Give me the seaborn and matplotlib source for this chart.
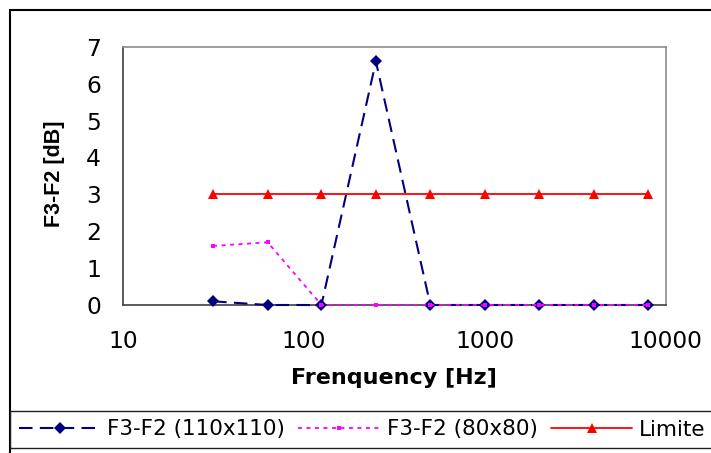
import matplotlib
matplotlib.use("Agg")
import matplotlib.pyplot as plt
from matplotlib.patches import Rectangle
import seaborn as sns
import pandas as pd

# Octave-band centre frequencies (Hz)
freq = [31.5, 63, 125, 250, 500, 1000, 2000, 4000, 8000]
# Level differences F3-F2 in dB for the two sample sizes, and the limit line
diff_110 = [0.1, 0.0, 0.0, 6.6, 0.0, 0.0, 0.0, 0.0, 0.0]
diff_80 = [1.6, 1.7, 0.0, 0.0, 0.0, 0.0, 0.0, 0.0, 0.0]
limite = [3, 3, 3, 3, 3, 3, 3, 3, 3]

series_labels = ["F3-F2 (110x110)", "F3-F2 (80x80)", "Limite"]
x_ticks = [10, 100, 1000, 10000]
x_tick_labels = ["10", "100", "1000", "10000"]
y_ticks = [0, 1, 2, 3, 4, 5, 6, 7]

sns.set_theme(style="white")
plt.rcParams["font.family"] = ["DejaVu Sans"]
plt.rcParams["text.color"] = "black"
plt.rcParams["axes.labelcolor"] = "black"

df = pd.DataFrame({"freq": freq, "d110": diff_110, "d80": diff_80, "lim": limite})

W, H = 711, 453
fig = plt.figure(figsize=(W / 100, H / 100), dpi=100)
ax = fig.add_axes([123 / W, 1 - 305 / H, (665.7 - 123) / W, (305 - 46.7) / H])

sns.lineplot(data=df, x="freq", y="d110", ax=ax, color="#000080", lw=1.5,
             linestyle=(0, (6.5, 3.5)), marker="D", markersize=6.3,
             markeredgewidth=0, label=series_labels[0], clip_on=False,
             zorder=3)
sns.lineplot(data=df, x="freq", y="d80", ax=ax, color="#FF00FF", lw=1.3,
             linestyle=(0, (2.2, 2.5)), marker="s", markersize=2.8,
             markeredgewidth=0, label=series_labels[1], clip_on=False,
             zorder=4)
sns.lineplot(data=df, x="freq", y="lim", ax=ax, color="#FF0000", lw=1.3,
             marker="^", markersize=6.5, markeredgewidth=0,
             label=series_labels[2], clip_on=False, zorder=5)

ax.set_xscale("log")
ax.set_xlim(10, 10000)
ax.set_ylim(0, 7)
ax.set_xticks(x_ticks)
ax.set_xticklabels(x_tick_labels)
ax.minorticks_off()
ax.set_yticks(y_ticks)
ax.set_yticklabels([str(v) for v in y_ticks])

ax.tick_params(axis="both", which="major", direction="out", length=5.8,
               width=1, color="#404040", labelsize=16.8, labelcolor="black")
ax.tick_params(axis="x", pad=12)
ax.tick_params(axis="y", pad=10)

for side in ("left", "bottom"):
    ax.spines[side].set_color("#404040")
    ax.spines[side].set_linewidth(1.2)
for side in ("top", "right"):
    ax.spines[side].set_color("#8c8c8c")
    ax.spines[side].set_linewidth(1.2)

ax.set_xlabel("Frenquency [Hz]", fontsize=16, fontweight="bold")
ax.set_ylabel("F3-F2 [dB]", fontsize=15.5, fontweight="bold",
              family=["Liberation Sans", "DejaVu Sans"])
ax.xaxis.set_label_coords(0.5, -0.244)
ax.yaxis.set_label_coords(-0.1076, 0.509)
ax.legend_.remove()

# Outer chart frame and legend strip
fig.patches.append(Rectangle((9.5 / W, -0.1), 1.2, 1 - 9.8 / H + 0.1,
                             transform=fig.transFigure, fill=False,
                             edgecolor="black", lw=1.5, zorder=0))
fig.patches.append(Rectangle((9.5 / W, 1 - 447.7 / H), 1.2, 36.7 / H,
                             transform=fig.transFigure, fill=False,
                             edgecolor="#202020", lw=1.0, zorder=0))

handles, labels = ax.get_legend_handles_labels()
order = [labels.index(s) for s in series_labels]
fig.legend([handles[i] for i in order], [labels[i] for i in order],
           loc="center left", bbox_to_anchor=(19 / W, 1 - 429.5 / H), ncol=3,
           frameon=False, fontsize=15.5, handlelength=3.77, handletextpad=0.33,
           columnspacing=0.62, borderaxespad=0, borderpad=0,
           labelcolor="black")

fig.savefig("out.png", dpi=100)
